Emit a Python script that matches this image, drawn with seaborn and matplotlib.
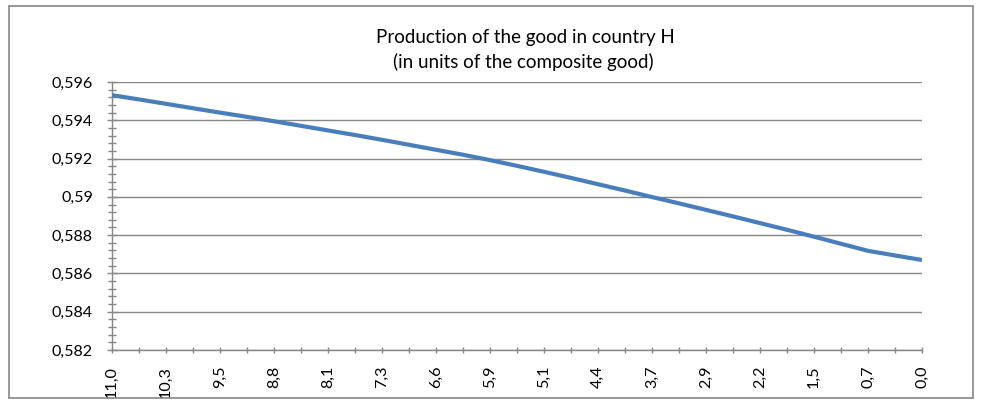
import matplotlib
matplotlib.use("Agg")
import matplotlib.pyplot as plt
from matplotlib.patches import Rectangle
from matplotlib.ticker import MultipleLocator, FixedLocator
import seaborn as sns
import pandas as pd

# ---- data ----
x_values = [11.00, 10.63, 10.27, 9.90, 9.53, 9.17, 8.80, 8.43, 8.07, 7.70,
            7.33, 6.97, 6.60, 6.23, 5.87, 5.50, 5.13, 4.77, 4.40, 4.03,
            3.67, 3.30, 2.93, 2.57, 2.20, 1.83, 1.47, 1.10, 0.73, 0.37, 0.00]
production = [0.59531, 0.59509, 0.59486, 0.59463, 0.59440, 0.59418, 0.59395,
              0.59371, 0.59347, 0.59323, 0.59298, 0.59272, 0.59246, 0.59220,
              0.59192, 0.59162, 0.59131, 0.59099, 0.59066, 0.59033, 0.58999,
              0.58966, 0.58932, 0.58898, 0.58863, 0.58828, 0.58792, 0.58755,
              0.58718, 0.58694, 0.58670]
y_ticks = [0.582, 0.584, 0.586, 0.588, 0.590, 0.592, 0.594, 0.596]
y_tick_labels = ["0,582", "0,584", "0,586", "0,588", "0,59", "0,592", "0,594", "0,596"]
title_lines = ["Production of the good in country H", "(in units of the composite good)"]

df = pd.DataFrame({"pos": list(range(len(x_values))), "x": x_values, "y": production})

sns.set_theme(style="white")
FAMILY = ["Lato", "DejaVu Sans"]
plt.rcParams["font.family"] = FAMILY

W, H = 982, 405
fig = plt.figure(figsize=(W / 100, H / 100), dpi=100)
renderer = fig.canvas.get_renderer()


def fit_size(text, target_px, base=10.0):
    t = fig.text(0, 0, text, fontsize=base)
    w = t.get_window_extent(renderer).width
    t.remove()
    return base * target_px / w


title_fs = fit_size(title_lines[0], 300)
tick_fs = fit_size("0,582", 41)

ax = fig.add_axes([112 / W, (H - 350) / H, (922 - 112) / W, (350 - 82) / H])

grid_c = "#868686"
line_c = "#4A7EBB"

sns.lineplot(data=df, x="pos", y="y", ax=ax, color=line_c, linewidth=3.0,
             solid_capstyle="butt", zorder=3)

ax.set_xlim(0, len(x_values) - 1)
ax.set_ylim(y_ticks[0], y_ticks[-1])

ax.set_yticks(y_ticks)
ax.set_yticklabels(y_tick_labels)
ax.yaxis.set_minor_locator(MultipleLocator(0.0004))

ax.set_xticks(df["pos"][::2])
ax.set_xticklabels([f"{v:.1f}".replace(".", ",") for v in x_values[::2]], rotation=90)
ax.xaxis.set_minor_locator(FixedLocator(list(df["pos"][1::2])))

ax.set_xlabel("")
ax.set_ylabel("")

for s in ["top", "right"]:
    ax.spines[s].set_visible(False)
for s in ["left", "bottom"]:
    ax.spines[s].set_color(grid_c)
    ax.spines[s].set_linewidth(1.0)

ax.yaxis.grid(True, which="major", color=grid_c, linewidth=1.0)
ax.xaxis.grid(False)
ax.set_axisbelow(True)

ax.tick_params(axis="y", which="major", direction="inout", length=7.2, width=1,
               color=grid_c, labelsize=tick_fs, labelcolor="black",
               pad=19 * 0.72 - 3.6, left=True)
ax.tick_params(axis="y", which="minor", direction="inout", length=5.8, width=1,
               color=grid_c, left=True)
ax.tick_params(axis="x", which="both", direction="inout", length=5, width=1,
               color=grid_c, labelsize=tick_fs, labelcolor="black",
               pad=16 * 0.72 - 2.5, bottom=True)

fig.text(525 / W, (H - 37) / H, title_lines[0], ha="center", va="center",
         fontsize=title_fs, color="black")
fig.text(523 / W, (H - 62) / H, title_lines[1], ha="center", va="center",
         fontsize=title_fs, color="black")

fig.patches.append(Rectangle((9 / W, 1 - 398 / H), (973 - 9) / W, (398 - 6) / H,
                             transform=fig.transFigure, fill=False,
                             edgecolor=grid_c, linewidth=1.2))

fig.savefig("out.png", dpi=100)
